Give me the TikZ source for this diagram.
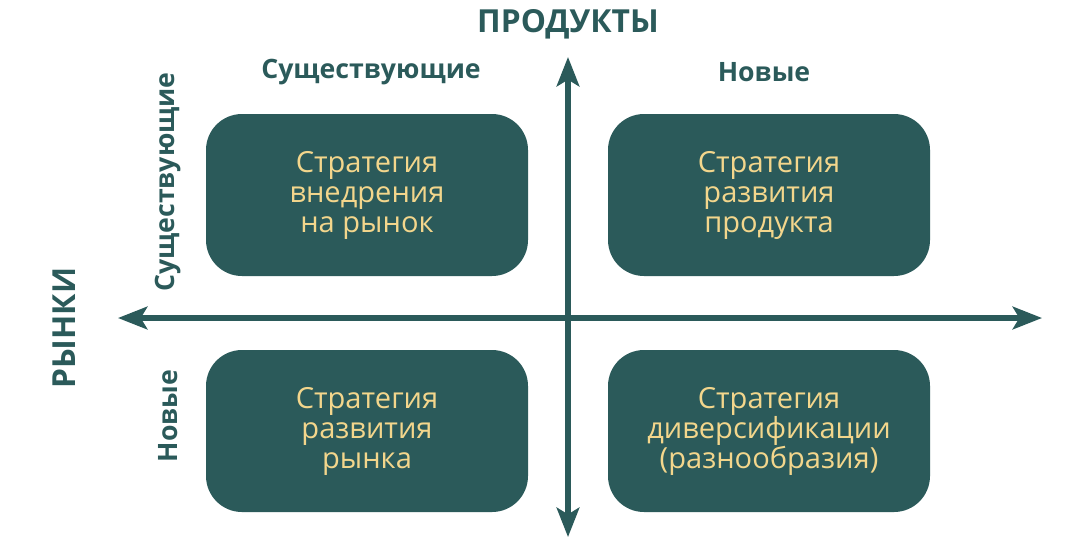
\documentclass[tikz,border=0pt]{standalone}
\usepackage{fontspec}
\setmainfont{Open Sans}
\usetikzlibrary{arrows.meta}
\definecolor{teal1}{HTML}{2B5A5A}
\definecolor{gold1}{HTML}{F3D68C}
\tikzset{
  quad/.style={fill=teal1, rounded corners=36*0.75pt, minimum width=322*0.75pt, minimum height=162*0.75pt, text=gold1, align=center, font=\fontsize{21.8}{22.5}\selectfont, inner sep=0pt},
  axis/.style={draw=teal1, line width=3.8pt, -{Stealth[length=22pt, width=17pt, inset=5pt]}},
  head/.style={text=teal1, font=\fontsize{20}{24}\selectfont\bfseries, inner sep=0pt},
  title/.style={text=teal1, font=\fontsize{23.8}{28}\selectfont\bfseries, inner sep=0pt}
}
\begin{document}
\begin{tikzpicture}[x=0.75pt, y=-0.75pt]
\useasboundingbox (0,0) rectangle (1080,540);
\coordinate (vt) at (568,57);
\coordinate (vb) at (568,537);
\coordinate (hl) at (118,318);
\coordinate (hr) at (1042,318);
\coordinate (c) at (568,318);
\draw[axis] (c) -- (vt);
\draw[axis] (c) -- (vb);
\draw[axis] (c) -- (hl);
\draw[axis] (c) -- (hr);
\node[quad] (q1) at (367,195) {Стратегия\\внедрения\\на рынок};
\node[quad] (q2) at (769,195) {Стратегия\\развития\\продукта};
\node[quad] (q3) at (367,431) {Стратегия\\развития\\рынка};
\node[quad] (q4) at (769,431) {Стратегия\\диверсификации\\(разнообразия)};
\node[title] (prod) at (568,24) {ПРОДУКТЫ};
\node[head] (pex) at (371,72) {Существующие};
\node[head] (pnew) at (764,72) {Новые};
\node[title, rotate=90] (mkt) at (64,328) {РЫНКИ};
\node[head, rotate=90] (mex) at (168,182) {Существующие};
\node[head, rotate=90] (mnew) at (168,416) {Новые};
\end{tikzpicture}
\end{document}
